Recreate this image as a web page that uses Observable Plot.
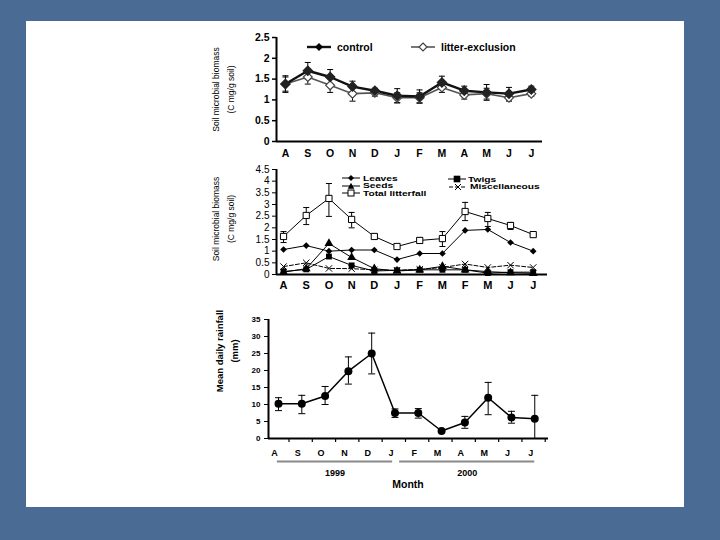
<!DOCTYPE html>
<html><head><meta charset="utf-8">
<script src="https://cdn.jsdelivr.net/npm/d3@7"></script>
<script src="https://cdn.jsdelivr.net/npm/@observablehq/plot@0.6"></script>
<style>
html,body{margin:0;padding:0;}
body{width:720px;height:540px;background:#4a6b93;position:relative;overflow:hidden;font-family:"Liberation Sans",Arial,sans-serif;}
#panel{position:absolute;left:26px;top:21px;width:658px;height:486px;background:#fff;}
.abs{position:absolute;}
.lg{position:absolute;white-space:nowrap;font-weight:bold;color:#000;transform-origin:0 50%;}
</style></head><body>
<div id="panel"></div>
<div id="top" class="abs" style="left:0;top:25px"></div>
<div id="mid" class="abs" style="left:0;top:160px"></div>
<div id="bot" class="abs" style="left:0;top:300px"></div>
<div id="yrs" class="abs" style="left:0;top:446px"></div>
<div id="legends"></div>
<div class="abs" style="left:388px;top:478px;width:40px;text-align:center;font:bold 10.5px 'Liberation Sans',Arial,sans-serif;">Month</div>
<script>
// ---------- data ----------
const months = ["A","S","O","N","D","J","F","M","A","M","J","J"];
const litterMonths = ["A","S","O","N","D","J","F","M","F","M","J","J"];
const rainMonths = ["A","S","O","N","D","J","F","M","A","M","J","J"];

const seriesTop = ["control","litter-exclusion"];
const control = [1.38,1.70,1.55,1.32,1.22,1.10,1.08,1.42,1.22,1.18,1.15,1.25];
const controlErr = [0.20,0.20,0.18,0.13,0.06,0.17,0.16,0.15,0.11,0.19,0.15,0.08];
const exclusion = [1.38,1.55,1.35,1.15,1.17,1.05,1.05,1.30,1.12,1.15,1.05,1.15];
const exclusionErr = [0.17,0.17,0.17,0.18,0.08,0.12,0.12,0.12,0.10,0.13,0.08,0.06];

const seriesMid = ["Leaves","Twigs","Seeds","Miscellaneous","Total litterfall"];
const leaves = [1.07,1.24,1.00,1.05,1.05,0.64,0.90,0.90,1.89,1.93,1.37,1.00];
const twigs  = [0.13,0.22,0.77,0.39,0.15,0.18,0.20,0.20,0.20,0.06,0.10,0.10];
const seeds  = [0.10,0.25,1.33,0.73,0.25,0.15,0.20,0.35,0.20,0.12,0.08,0.05];
const misc   = [0.34,0.50,0.26,0.25,0.20,0.18,0.22,0.30,0.45,0.30,0.40,0.30];
const total  = [1.63,2.53,3.26,2.36,1.63,1.20,1.46,1.54,2.70,2.40,2.10,1.71];
const totalLo = [1.37,2.14,2.49,2.00,1.55,1.15,1.35,1.20,2.31,2.06,1.93,1.66];
const totalHi = [1.84,2.87,3.90,2.66,1.73,1.22,1.58,1.84,3.09,2.66,2.23,1.76];

const rain   = [10.2,10.2,12.5,19.8,25.0,7.5,7.5,2.2,4.7,12.0,6.2,5.8];
const rainLo = [8.2,7.3,10.0,16.0,19.0,6.2,6.0,2.2,3.0,7.0,4.5,0.0];
const rainHi = [12.0,12.7,15.3,24.0,31.0,8.7,8.8,2.2,6.5,16.5,8.0,12.7];

const years = ["1999","2000"];
const yearFrom = [-0.05, 5.2];
const yearTo = [4.9, 11.0];

const yTicksTop = [0,0.5,1,1.5,2,2.5];
const yTicksMid = [0,0.5,1,1.5,2,2.5,3,3.5,4,4.5];
const yTicksBot = [0,5,10,15,20,25,30,35];

// ---------- helpers ----------
const FONT = '"Liberation Sans", Arial, sans-serif';
const idx = d3.range(12);
const cap = {draw(ctx, size){ const w = Math.sqrt(size/Math.PI); ctx.moveTo(-w,0); ctx.lineTo(w,0); }};
function style(fs, fw){ return {fontFamily: FONT, fontSize: fs+"px", fontWeight: fw, color:"#000", background:"none", overflow:"visible"}; }
function errMarks(rows, r){
  return [
    Plot.ruleX(rows, {x:"i", y1:"lo", y2:"hi", stroke:"#000", strokeWidth:1}),
    Plot.dot(rows, {x:"i", y:"hi", symbol:cap, r:r, fill:"none", stroke:"#000", strokeWidth:1}),
    Plot.dot(rows, {x:"i", y:"lo", symbol:cap, r:r, fill:"none", stroke:"#000", strokeWidth:1})
  ];
}

// ---------- top panel ----------
const ctrlRows = idx.map(i => ({i, v: control[i], lo: control[i]-controlErr[i], hi: control[i]+controlErr[i]}));
const exclRows = idx.map(i => ({i, v: exclusion[i], lo: exclusion[i]-exclusionErr[i], hi: exclusion[i]+exclusionErr[i]}));
const xTop = [-0.4, 11.5];
document.getElementById("top").append(Plot.plot({
  width:720, height:140, marginLeft:276, marginRight:178, marginTop:12, marginBottom:24,
  style: style(10.5,"bold"),
  x:{domain:xTop, label:null},
  y:{domain:[0,2.5], label:null},
  marks:[
    Plot.axisY(yTicksTop, {tickSize:4, tickPadding:3, tickFormat:d=>String(d), strokeWidth:1.5}),
    Plot.axisX(idx, {tickSize:0, tickPadding:8, tickFormat:i=>months[i]}),
    Plot.ruleY([0], {strokeWidth:2}),
    Plot.ruleX([xTop[0]], {strokeWidth:2}),
    Plot.text(["Soil microbial biomass\n(C mg/g soil)"], {frameAnchor:"left", textAnchor:"middle", rotate:-90, dx:-55, lineHeight:1.85, fontSize:8.5, fontWeight:"normal", fill:"#000"}),
    ...errMarks(exclRows, 3),
    ...errMarks(ctrlRows, 3),
    Plot.line(exclRows, {x:"i", y:"v", stroke:"#555", strokeWidth:1.6}),
    Plot.line(ctrlRows, {x:"i", y:"v", stroke:"#111", strokeWidth:2.4}),
    Plot.dot(exclRows, {x:"i", y:"v", symbol:"diamond2", r:4, fill:"#fff", stroke:"#444", strokeWidth:1.2}),
    Plot.dot(ctrlRows, {x:"i", y:"v", symbol:"diamond2", r:4, fill:"#222", stroke:"#222"})
  ]
}));

// ---------- middle panel ----------
const mk = arr => idx.map(i => ({i, v: arr[i]}));
const totRows = idx.map(i => ({i, v: total[i], lo: totalLo[i], hi: totalHi[i]}));
const xMid = [-0.31, 11.63];
document.getElementById("mid").append(Plot.plot({
  width:720, height:135, marginLeft:276, marginRight:173, marginTop:9, marginBottom:21,
  style: style(11,"bold"),
  x:{domain:xMid, label:null},
  y:{domain:[0,4.5], label:null},
  marks:[
    Plot.axisY(yTicksMid, {tickSize:4, tickPadding:3, tickFormat:d=>String(d), fontWeight:"normal", fontSize:10}),
    Plot.axisX(idx, {tickSize:0, tickPadding:7, tickFormat:i=>litterMonths[i]}),
    Plot.ruleY([0], {strokeWidth:2}),
    Plot.ruleX([xMid[0]], {strokeWidth:2}),
    Plot.text(["Soil microbial biomass\n(C mg/g soil)"], {frameAnchor:"left", textAnchor:"middle", rotate:-90, dx:-55, dy:-3, lineHeight:1.85, fontSize:8.5, fontWeight:"normal", fill:"#000"}),
    ...errMarks(totRows, 3),
    Plot.line(mk(misc), {x:"i", y:"v", stroke:"#000", strokeWidth:1, strokeDasharray:"4,2"}),
    Plot.line(mk(twigs), {x:"i", y:"v", stroke:"#000", strokeWidth:1}),
    Plot.line(mk(seeds), {x:"i", y:"v", stroke:"#000", strokeWidth:1}),
    Plot.line(mk(leaves), {x:"i", y:"v", stroke:"#000", strokeWidth:1}),
    Plot.line(totRows, {x:"i", y:"v", stroke:"#000", strokeWidth:1}),
    Plot.dot(mk(misc), {x:"i", y:"v", symbol:"times", r:3, stroke:"#000", strokeWidth:1}),
    Plot.dot(mk(twigs), {x:"i", y:"v", symbol:"square", r:3.3, fill:"#000"}),
    Plot.dot(mk(seeds), {x:"i", y:"v", symbol:"triangle", r:3.3, fill:"#000"}),
    Plot.dot(mk(leaves), {x:"i", y:"v", symbol:"diamond2", r:3, fill:"#000"}),
    Plot.dot(totRows, {x:"i", y:"v", symbol:"square", r:3.5, fill:"#fff", stroke:"#000", strokeWidth:1})
  ]
}));

// ---------- bottom panel ----------
const rainRows = idx.map(i => ({i, v: rain[i], lo: rainLo[i], hi: rainHi[i]}));
const xBot = [-0.43, 11.59];
document.getElementById("bot").append(Plot.plot({
  width:720, height:160, marginLeft:268, marginRight:172, marginTop:19, marginBottom:22,
  style: style(9,"bold"),
  x:{domain:xBot, label:null},
  y:{domain:[0,35], label:null},
  marks:[
    Plot.axisY(yTicksBot, {tickSize:4, tickPadding:4, tickFormat:d=>String(d), fontSize:8}),
    Plot.axisX(idx, {tickSize:0, tickPadding:11, dx:-4, tickFormat:i=>rainMonths[i]}),
    Plot.axisX(idx.map(i=>i+0.45), {tickSize:4, tickFormat:()=>"", strokeWidth:1.2}),
    Plot.ruleY([0], {strokeWidth:2}),
    Plot.ruleX([xBot[0]], {strokeWidth:2}),
    Plot.text(["Mean daily rainfall\n(mm)"], {frameAnchor:"left", textAnchor:"middle", rotate:-90, dx:-43, dy:-28, lineHeight:1.6, fontSize:9.5, fontWeight:"bold", fill:"#000"}),
    ...errMarks(rainRows, 3.5),
    Plot.line(rainRows, {x:"i", y:"v", stroke:"#000", strokeWidth:1.5}),
    Plot.dot(rainRows, {x:"i", y:"v", symbol:"circle", r:4, fill:"#000"})
  ]
}));

// ---------- year brackets ----------
const yearRows = years.map((y,k) => ({year:y, from:yearFrom[k], to:yearTo[k], mid:(yearFrom[k]+yearTo[k])/2}));
document.getElementById("yrs").append(Plot.plot({
  width:720, height:30, marginLeft:268, marginRight:172, marginTop:0, marginBottom:0,
  style: style(9,"bold"),
  x:{domain:xBot, axis:null},
  marks:[
    Plot.ruleY(yearRows, {x1:"from", x2:"to", y:null, stroke:"#8a8a8a", strokeWidth:2}),
    Plot.text(yearRows, {x:"mid", text:"year", frameAnchor:"bottom", lineAnchor:"bottom", dy:-1, fill:"#000"})
  ]
}));

// ---------- legends ----------
const L = document.getElementById("legends");
function sym(kind, cx, cy, r){
  if (kind==="diamond") return `<path d="M${cx},${cy-r}L${cx+r},${cy}L${cx},${cy+r}L${cx-r},${cy}Z" fill="#000"/>`;
  if (kind==="diamondOpen") return `<path d="M${cx},${cy-r}L${cx+r},${cy}L${cx},${cy+r}L${cx-r},${cy}Z" fill="#fff" stroke="#444" stroke-width="1.2"/>`;
  if (kind==="square") return `<rect x="${cx-r}" y="${cy-r}" width="${2*r}" height="${2*r}" fill="#000"/>`;
  if (kind==="squareOpen") return `<rect x="${cx-r+0.5}" y="${cy-r+0.5}" width="${2*r-1}" height="${2*r-1}" fill="#fff" stroke="#000"/>`;
  if (kind==="triangle") return `<path d="M${cx},${cy-r}L${cx+r},${cy+r*0.8}L${cx-r},${cy+r*0.8}Z" fill="#000"/>`;
  if (kind==="times") return `<path d="M${cx-r},${cy-r}L${cx+r},${cy+r}M${cx-r},${cy+r}L${cx+r},${cy-r}" stroke="#000"/>`;
  return "";
}
function item(x0, x1, y, kind, r, lineAttr, label, tx, fs, sx){
  const w = x1 - x0 + 2;
  const s = document.createElement("div");
  s.className = "abs";
  s.style.left = (x0-1)+"px"; s.style.top = (y-7)+"px";
  s.innerHTML = `<svg width="${w}" height="14" style="display:block"><line x1="1" x2="${w-1}" y1="7" y2="7" ${lineAttr}/>${sym(kind, w/2, 7, r)}</svg>`;
  L.append(s);
  const t = document.createElement("div");
  t.className = "lg";
  const lh = Math.round(fs);
  t.style.left = tx+"px"; t.style.top = (y - lh/2)+"px"; t.style.fontSize = fs+"px";
  t.style.height = lh+"px"; t.style.lineHeight = lh+"px";
  if (sx) t.style.transform = `scale(${sx},1)`;
  t.textContent = label;
  L.append(t);
}
item(307, 331, 47, "diamond", 4, 'stroke="#111" stroke-width="2.4"', seriesTop[0], 337, 10.5);
item(411, 435, 47, "diamondOpen", 4, 'stroke="#555" stroke-width="1.6"', seriesTop[1], 441, 10.5);
item(342, 360, 178, "diamond", 3, 'stroke="#000"', seriesMid[0], 363, 7.2, 1.42);
item(448, 466, 179, "square", 3.3, 'stroke="#000"', seriesMid[1], 468, 7.2, 1.42);
item(342, 360, 185.5, "triangle", 3.3, 'stroke="#000"', seriesMid[2], 363, 7.2, 1.42);
item(449, 467, 186.5, "times", 3, 'stroke="#000" stroke-dasharray="4,2"', seriesMid[3], 470, 7.2, 1.42);
item(342, 360, 193, "squareOpen", 3.5, 'stroke="#000"', seriesMid[4], 363, 7.2, 1.42);
</script>
</body></html>
